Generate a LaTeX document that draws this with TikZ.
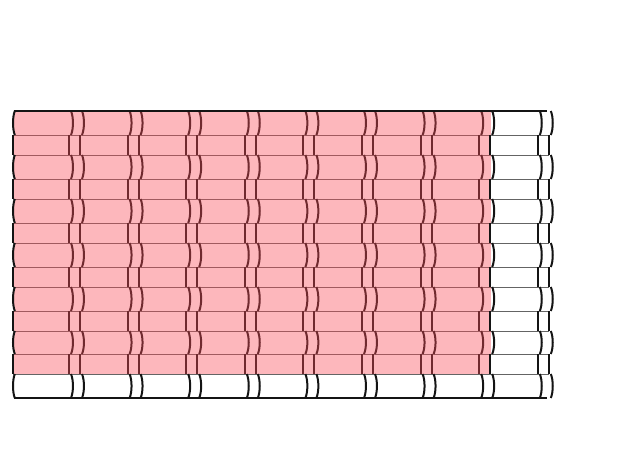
\documentclass[tikz,border=0pt]{standalone}
\usepackage{tikz}
\definecolor{lineblk}{RGB}{20,20,20}
\definecolor{linegray}{RGB}{100,100,100}
\definecolor{pinkov}{RGB}{250,75,88}
\tikzset{
  vline/.style={draw=lineblk, line width=2pt},
  hline/.style={draw=linegray, line width=0.9pt},
  border/.style={draw=lineblk, line width=2pt},
  overlay/.style={fill=pinkov, fill opacity=0.4}
}
\begin{document}
\begin{tikzpicture}[x=1pt,y=-1pt]
\useasboundingbox (0,0) rectangle (618,457);
% interior horizontal lines
\foreach \y in {135,155,179,199,223,243,267,287,311,331,354,374}
  \draw[hline] (13,\y) -- (549,\y);
% inner vertical lines: tall rows (curved)
\foreach \t/\b in {111/135,155/179,199/223,243/267,287/311,331/354,374/398}{
  \foreach \k in {1,...,9}{
    \pgfmathsetmacro\x{12.4+58.6*\k}
    \draw[vline] (\x,\t) .. controls ({\x+2.6},{\t+6}) and ({\x+2.6},{\b-6}) .. (\x,\b);
    \ifnum\k=8\relax\else
      \draw[vline] ({\x+11},\t) .. controls ({\x+13.6},{\t+6}) and ({\x+13.6},{\b-6}) .. ({\x+11},\b);
    \fi
  }
}
% inner vertical lines: short rows (straight)
\foreach \t/\b in {135/155,179/199,223/243,267/287,311/331,354/374}{
  \foreach \k in {1,...,9}{
    \pgfmathsetmacro\x{12.4+58.6*\k}
    \draw[vline] ({\x-2},\t) -- ({\x-2},\b);
    \ifnum\k=8\relax\else
      \draw[vline] ({\x+9},\t) -- ({\x+9},\b);
    \fi
  }
}
% translucent pink block
\fill[overlay] (14,112) rectangle (491.2,374);
% lines drawn above the pink block
\pgfmathsetmacro\xe{12.4+58.6*8}
\foreach \t/\b in {111/135,155/179,199/223,243/267,287/311,331/354,374/398}{
  \draw[vline] ({\xe+11},\t) .. controls ({\xe+13.6},{\t+6}) and ({\xe+13.6},{\b-6}) .. ({\xe+11},\b);
  \draw[vline] (14.8,\t) .. controls (12.4,{\t+6}) and (12.4,{\b-6}) .. (14.8,\b);
}
\foreach \t/\b in {135/155,179/199,223/243,267/287,311/331,354/374}{
  \draw[vline] ({\xe+9},\t) -- ({\xe+9},\b);
  \draw[vline] (13.4,\t) -- (13.4,\b);
}
\draw[border] (13.5,111) -- (547,111);
\draw[border] (13.5,398) -- (547,398);
\end{tikzpicture}
\end{document}
